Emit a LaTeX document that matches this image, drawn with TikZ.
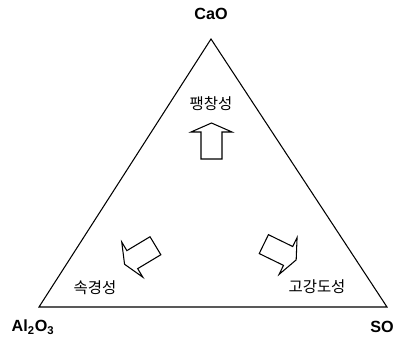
\documentclass[tikz,border=0pt]{standalone}
\usepackage{fontspec}
\setmainfont{Liberation Sans}
\newfontfamily\krfont{Noto Sans CJK KR}
\usepackage{tikz}
\usetikzlibrary{positioning}

\begin{document}
\begin{tikzpicture}[
    x=0.025cm, y=0.025cm,
    oxide/.style={font=\fontsize{11.5}{13}\selectfont\bfseries,inner sep=0pt},
    prop/.style={font=\krfont\fontsize{11}{12}\selectfont,inner sep=0pt},
    blockarrow/.pic={\draw[line width=0.75pt,line join=miter,fill=white]
        (18,0) -- (9,20.5) -- (9,10.5) -- (-18,10.5) -- (-18,-10.5)
        -- (9,-10.5) -- (9,-20.5) -- cycle;},
]
    \useasboundingbox (0,0) rectangle (402,345);

    % corners of the triangle
    \coordinate (top) at (211,306);
    \coordinate (left) at (39,38);
    \coordinate (right) at (387,38);
    \draw[line width=0.75pt,line join=miter] (top) -- (left) -- (right) -- cycle;

    \node[oxide] (cao) at (211,331) {CaO};
    \node[oxide] (al) at (33,18) {Al\textsubscript{2}O\textsubscript{3}};
    \node[oxide] (so) at (382,18) {SO};

    \node[prop] (swell) at (211,241) {팽창성};
    \node[prop] (rapid) at (95,57) {속경성};
    \node[prop] (strong) at (317,58) {고강도성};

    \pic[rotate=90] at (211.5,204) {blockarrow};
    \pic[rotate=211] at (140,90) {blockarrow};
    \pic[rotate=334] at (280,93) {blockarrow};
\end{tikzpicture}
\end{document}
